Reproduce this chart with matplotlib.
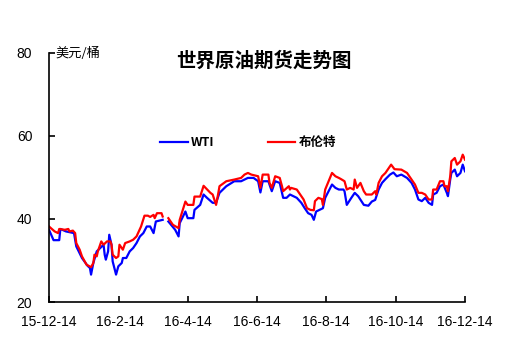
import numpy as np
import pandas as pd
import matplotlib
matplotlib.use("Agg")
import matplotlib.pyplot as plt
import matplotlib.dates as mdates

start_date = "2015-12-14"
title = "世界原油期货走势图"
unit_label = "美元/桶"
series_names = ["WTI", "布伦特"]
tick_dates = ["2015-12-14", "2016-02-14", "2016-04-14", "2016-06-14",
              "2016-08-14", "2016-10-14", "2016-12-14"]
tick_labels = ["15-12-14", "16-2-14", "16-4-14", "16-6-14",
               "16-8-14", "16-10-14", "16-12-14"]
y_ticks = [20, 40, 60, 80]

# days since start_date
wti_day = [0, 4, 9, 10, 15, 22, 24, 29, 34, 36, 37, 39, 42, 45, 48, 49, 50, 52, 53, 55,
           56, 59, 61, 64, 65, 68, 71, 74, 77, 80, 83, 86, 89, 92, 94, 100, 102, 105, 111, 114,
           115, 120, 122, 127, 128, 133, 136, 139, 144, 147, 150, 156, 163, 169, 175, 180, 184, 186, 188, 193,
           196, 199, 203, 206, 209, 212, 218, 222, 225, 228, 231, 233, 235, 238, 241, 243, 246, 249, 252, 255,
           259, 260, 262, 266, 269, 272, 277, 281, 284, 287, 290, 293, 296, 300, 303, 306, 310, 315, 319, 322,
           325, 328, 331, 334, 337, 338, 341, 344, 347, 350, 351, 353, 354, 357, 359, 362, 364, 366]
wti_price = [37.4, 34.9, 34.9, 37.6, 37.0, 36.6, 33.4, 30.6, 28.7, 28.2, 26.6, 29.4, 32.2, 33.0, 33.8, 31.4, 30.2, 32.2, 36.2, 33.8,
             29.8, 26.6, 28.6, 29.4, 30.6, 30.6, 32.2, 33.0, 34.2, 35.8, 36.6, 38.2, 38.2, 36.6, 39.4, 39.8, np.nan, 39.4, 37.4, 35.8,
             39.0, 41.8, 40.2, 40.2, 42.2, 43.4, 45.9, 45.1, 43.9, 43.9, 46.3, 47.9, 49.1, 49.1, 49.9, 49.9, 49.1, 46.4, 49.1, 49.1,
             46.7, 49.1, 48.7, 45.1, 45.1, 45.9, 45.1, 43.9, 42.6, 41.4, 41.0, 39.8, 41.8, 42.2, 42.6, 45.1, 46.7, 48.3, 47.5, 47.1,
             47.1, 46.7, 43.4, 45.1, 46.3, 45.5, 43.4, 43.2, 44.2, 44.6, 47.1, 48.7, 49.6, 50.7, 51.2, 50.3, 50.7, 49.9, 48.7, 47.1,
             44.7, 44.3, 45.1, 43.9, 43.4, 45.9, 46.3, 47.9, 48.3, 46.3, 45.5, 49.5, 51.1, 51.9, 50.3, 51.1, 53.1, 51.5]

brent_day = [0, 5, 8, 9, 14, 17, 18, 21, 23, 24, 27, 29, 33, 37, 39, 40, 42, 43, 46, 48,
             51, 54, 55, 56, 59, 61, 62, 65, 67, 71, 74, 77, 81, 84, 87, 89, 92, 93, 95, 99,
             100, 102, 105, 109, 114, 115, 120, 122, 127, 128, 133, 136, 142, 144, 147, 149, 150, 156, 163, 169,
             172, 175, 178, 184, 186, 188, 193, 194, 196, 199, 203, 205, 206, 211, 212, 213, 218, 221, 224, 227,
             230, 233, 234, 237, 240, 241, 243, 246, 249, 252, 255, 257, 260, 262, 265, 268, 269, 271, 274, 277,
             279, 284, 287, 288, 290, 293, 296, 299, 301, 304, 310, 315, 319, 322, 325, 328, 331, 334, 337, 338,
             341, 344, 347, 348, 350, 351, 353, 354, 357, 359, 362, 364, 366]
brent_price = [38.2, 37.0, 36.6, 37.6, 37.4, 37.6, 37.0, 37.2, 36.6, 34.2, 32.6, 31.0, 29.0, 28.4, 29.4, 31.4, 31.0, 32.2, 34.6, 33.8,
               34.6, 34.6, 33.8, 31.4, 30.6, 31.0, 33.8, 32.6, 34.2, 34.6, 35.0, 35.8, 38.2, 40.8, 40.8, 40.5, 41.0, 40.2, 41.4, 41.4,
               40.6, np.nan, 40.2, 38.6, 37.8, 39.8, 44.2, 43.4, 43.4, 45.4, 45.4, 48.0, 46.3, 45.9, 43.4, 46.3, 47.9, 49.1, 49.5, 49.9,
               50.7, 51.1, 50.7, 50.3, 47.5, 50.7, 50.7, 48.7, 47.5, 50.3, 49.9, 47.9, 46.7, 47.9, 47.1, 47.5, 47.1, 45.9, 44.7, 42.6,
               42.2, 42.1, 44.3, 45.1, 44.8, 43.4, 47.1, 49.1, 51.1, 50.3, 49.9, 49.6, 49.1, 47.1, 47.5, 47.1, 49.5, 47.5, 48.7, 46.7,
               45.9, 45.9, 46.7, 45.9, 48.7, 50.3, 51.1, 52.3, 53.1, 52.0, 51.9, 51.1, 49.5, 48.3, 46.3, 46.3, 45.9, 44.7, 44.7, 47.1,
               47.1, 49.1, 49.1, 47.9, 47.9, 46.7, 50.3, 53.9, 54.7, 53.1, 53.9, 55.5, 54.3]

plt.rcParams['font.family'] = ['Liberation Sans', 'Noto Sans CJK SC', 'DejaVu Sans']

t0 = pd.Timestamp(start_date)
wti_dates = t0 + pd.to_timedelta(wti_day, unit="D")
brent_dates = t0 + pd.to_timedelta(brent_day, unit="D")

fig = plt.figure(figsize=(5.07, 3.6), dpi=100)
ax = fig.add_axes([49 / 507, 1 - 302 / 360, (465 - 49) / 507, (302 - 53) / 360])

ax.plot(wti_dates, wti_price, color="#0000ff", lw=1.6, label=series_names[0])
ax.plot(brent_dates, brent_price, color="#ff0000", lw=1.6, label=series_names[1])

ax.set_xlim(pd.Timestamp(tick_dates[0]), pd.Timestamp(tick_dates[-1]))
ax.set_ylim(20, 80)
ax.set_yticks(y_ticks)
ax.set_xticks([pd.Timestamp(d) for d in tick_dates])
ax.set_xticklabels(tick_labels)
for s in ["top", "right"]:
    ax.spines[s].set_visible(False)
for s in ["left", "bottom"]:
    ax.spines[s].set_linewidth(1.2)
ax.tick_params(axis="y", direction="in", length=4, width=1.2, pad=12, labelsize=10)
ax.tick_params(axis="x", direction="in", length=4, width=1.2, pad=9, labelsize=10)

fig.text(55 / 507, 1 - 53 / 360, unit_label, fontsize=9.5, va="center", ha="left",
         family=['Noto Sans CJK SC'])
fig.text(264 / 507, 1 - 61 / 360, title, fontsize=14, fontweight="bold", ha="center",
         va="center", family=['Noto Sans CJK SC'])

leg = ax.legend(loc="center left", bbox_to_anchor=(160 / 507, 1 - 143 / 360),
                bbox_transform=fig.transFigure, ncol=2, frameon=False,
                handlelength=2.2, handletextpad=0.25, columnspacing=4.3,
                borderpad=0, borderaxespad=0,
                prop={"family": ['Noto Sans CJK SC'], "weight": "bold", "size": 9})

fig.savefig("out.png", dpi=100)
